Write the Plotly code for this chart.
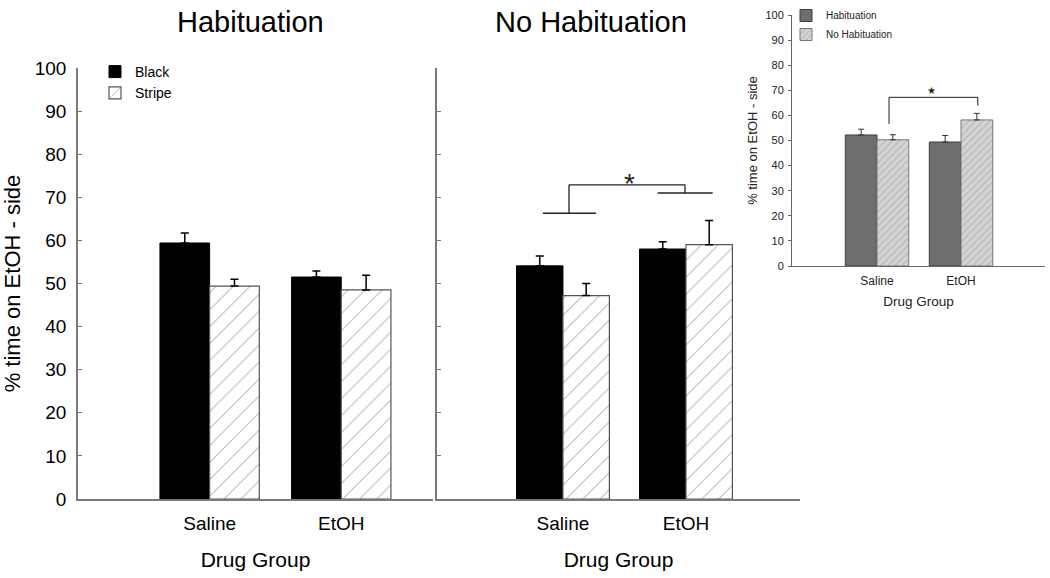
import plotly.graph_objects as go

# ---------------- data ----------------
categories = ["Saline", "EtOH"]

hab_black = [59.4, 51.5]
hab_black_err = [2.3, 1.4]
hab_stripe = [49.4, 48.5]
hab_stripe_err = [1.6, 3.4]

nohab_black = [54.1, 58.0]
nohab_black_err = [2.3, 1.7]
nohab_stripe = [47.2, 59.0]
nohab_stripe_err = [2.8, 5.6]

inset_hab = [52.2, 49.4]
inset_hab_err = [2.3, 2.6]
inset_nohab = [50.3, 58.2]
inset_nohab_err = [2.0, 2.6]

y_ticks = list(range(0, 101, 10))

FONT = "Arial, Liberation Sans, sans-serif"
AXC = "#7a7a7a"

fig = go.Figure()


def err(vals):
    return dict(type="data", symmetric=False, array=vals, arrayminus=[0] * len(vals),
                color="black", thickness=1.5, width=4)


def err_small(vals):
    return dict(type="data", symmetric=False, array=vals, arrayminus=[0] * len(vals),
                color="#333", thickness=1, width=3)


black_marker = dict(color="black", line=dict(color="black", width=1))
stripe_marker = dict(color="white", line=dict(color="#555", width=1.2),
                     pattern=dict(shape="/", fgcolor="#333", bgcolor="white", size=12, solidity=0.08))

# Habituation panel
fig.add_bar(x=categories, y=hab_black, name="Black", marker=black_marker,
            error_y=err(hab_black_err), xaxis="x", yaxis="y", offsetgroup="a", legend="legend")
fig.add_bar(x=categories, y=hab_stripe, name="Stripe", marker=stripe_marker,
            error_y=err(hab_stripe_err), xaxis="x", yaxis="y", offsetgroup="b", legend="legend")
# No habituation panel
fig.add_bar(x=categories, y=nohab_black, name="Black", marker=black_marker, showlegend=False,
            error_y=err(nohab_black_err), xaxis="x2", yaxis="y2", offsetgroup="a")
fig.add_bar(x=categories, y=nohab_stripe, name="Stripe", marker=stripe_marker, showlegend=False,
            error_y=err(nohab_stripe_err), xaxis="x2", yaxis="y2", offsetgroup="b")
# Inset
fig.add_bar(x=categories, y=inset_hab, name="Habituation",
            marker=dict(color="#6e6e6e", line=dict(color="#3c3c3c", width=1)),
            error_y=err_small(inset_hab_err), xaxis="x3", yaxis="y3", offsetgroup="a", legend="legend2")
fig.add_bar(x=categories, y=inset_nohab, name="No Habituation",
            marker=dict(color="#cfcfcf", line=dict(color="#777", width=1),
                        pattern=dict(shape="/", fgcolor="#9a9a9a", bgcolor="#d4d4d4", size=5, solidity=0.25)),
            error_y=err_small(inset_nohab_err), xaxis="x3", yaxis="y3", offsetgroup="b", legend="legend2")

# significance brackets (No Habituation panel)
br_main_x = [-0.163, 0.268, 0.049, 0.992, 0.77, 1.217]
br_main_y = [66.3, 72.9, 71.0]
line_k = dict(color="#222", width=1.3)
shapes = [
    dict(type="line", xref="x2", yref="y2", x0=br_main_x[0], x1=br_main_x[1], y0=br_main_y[0], y1=br_main_y[0], line=line_k),
    dict(type="line", xref="x2", yref="y2", x0=br_main_x[2], x1=br_main_x[2], y0=br_main_y[0], y1=br_main_y[1], line=line_k),
    dict(type="line", xref="x2", yref="y2", x0=br_main_x[2], x1=br_main_x[3], y0=br_main_y[1], y1=br_main_y[1], line=line_k),
    dict(type="line", xref="x2", yref="y2", x0=br_main_x[3], x1=br_main_x[3], y0=br_main_y[1], y1=br_main_y[2], line=line_k),
    dict(type="line", xref="x2", yref="y2", x0=br_main_x[4], x1=br_main_x[5], y0=br_main_y[2], y1=br_main_y[2], line=line_k),
]
br_in_x = [0.143, 1.2]
br_in_y = [56.6, 67.2, 63.9]
line_s = dict(color="#222", width=1)
shapes += [
    dict(type="line", xref="x3", yref="y3", x0=br_in_x[0], x1=br_in_x[0], y0=br_in_y[0], y1=br_in_y[1], line=line_s),
    dict(type="line", xref="x3", yref="y3", x0=br_in_x[0], x1=br_in_x[1], y0=br_in_y[1], y1=br_in_y[1], line=line_s),
    dict(type="line", xref="x3", yref="y3", x0=br_in_x[1], x1=br_in_x[1], y0=br_in_y[1], y1=br_in_y[2], line=line_s),
]

annotations = [
    dict(text="Habituation", xref="paper", yref="paper", x=250 / 1050, y=1 - 22 / 578,
         showarrow=False, font=dict(family=FONT, size=29, color="black"), xanchor="center", yanchor="middle"),
    dict(text="No Habituation", xref="paper", yref="paper", x=591 / 1050, y=1 - 22 / 578,
         showarrow=False, font=dict(family=FONT, size=29, color="black"), xanchor="center", yanchor="middle"),
    dict(text="*", xref="x2", yref="y2", x=0.537, y=73.3, showarrow=False,
         font=dict(family=FONT, size=28, color="#222"), xanchor="center", yanchor="middle"),
    dict(text="★", xref="x3", yref="y3", x=0.643, y=70.1, showarrow=False,
         font=dict(family="DejaVu Sans", size=10, color="#2a2410"), xanchor="center", yanchor="middle"),
]

main_y = dict(range=[0, 100], tickvals=y_ticks, ticks="inside", ticklen=4, tickcolor=AXC,
              showline=True, linecolor=AXC, linewidth=1.5, showgrid=False, zeroline=False,
              domain=[1 - 499 / 578, 1 - 68 / 578], fixedrange=True, automargin=False)
main_x = dict(type="category", showline=True, linecolor=AXC, linewidth=1.5, showgrid=False,
              ticks="", tickfont=dict(family=FONT, size=19, color="black"), ticklabelstandoff=6,
              automargin=False,
              title=dict(text="Drug Group", font=dict(family=FONT, size=21, color="black"), standoff=20))

fig.update_layout(
    width=1050, height=578, margin=dict(l=0, r=0, t=0, b=0, autoexpand=False),
    paper_bgcolor="white", plot_bgcolor="white",
    barmode="group", bargap=0.245, bargroupgap=0,
    font=dict(family=FONT, color="black"),
    xaxis=dict(main_x, domain=[78 / 1050, 433 / 1050], range=[-1, 1.697], anchor="y"),
    yaxis=dict(main_y, anchor="x", tickfont=dict(family=FONT, size=19, color="black"),
               ticklabelstandoff=6,
               title=dict(text="% time on EtOH - side", font=dict(family=FONT, size=22, color="black"), standoff=8)),
    xaxis2=dict(main_x, domain=[437 / 1050, 800 / 1050], range=[-1.024, 1.927], anchor="y2"),
    yaxis2=dict(main_y, anchor="x2", showticklabels=False),
    xaxis3=dict(type="category", domain=[792 / 1050, 1045 / 1050], range=[-1.012, 2.0], anchor="y3",
                showline=True, linecolor="#666", linewidth=1, showgrid=False, ticks="", automargin=False,
                ticklabelstandoff=4,
                tickfont=dict(family=FONT, size=12, color="#222"),
                title=dict(text="Drug Group", font=dict(family=FONT, size=13.5, color="#222"), standoff=9)),
    yaxis3=dict(range=[0, 100], tickvals=y_ticks, ticks="outside", ticklen=3, tickcolor="#666",
                showline=True, linecolor="#666", linewidth=1, showgrid=False, zeroline=False,
                domain=[1 - 266 / 578, 1 - 15 / 578], anchor="x3", ticklabelstandoff=2, automargin=False,
                tickfont=dict(family=FONT, size=11, color="#222"),
                title=dict(text="% time on EtOH - side", font=dict(family=FONT, size=13, color="#222"), standoff=4)),
    legend=dict(x=95 / 1050, y=1 - 56 / 578, xanchor="left", yanchor="top", bgcolor="rgba(0,0,0,0)",
                font=dict(family=FONT, size=14, color="black"), tracegroupgap=0, itemwidth=30),
    legend2=dict(x=786 / 1050, y=1 - 1 / 578, xanchor="left", yanchor="top", bgcolor="rgba(0,0,0,0)",
                 font=dict(family=FONT, size=10, color="#222"), tracegroupgap=0, itemwidth=30),
    shapes=shapes, annotations=annotations,
)

fig.write_html("out.html", config={"displayModeBar": False},
               post_script="document.body.style.margin='0';document.body.style.padding='0';")
